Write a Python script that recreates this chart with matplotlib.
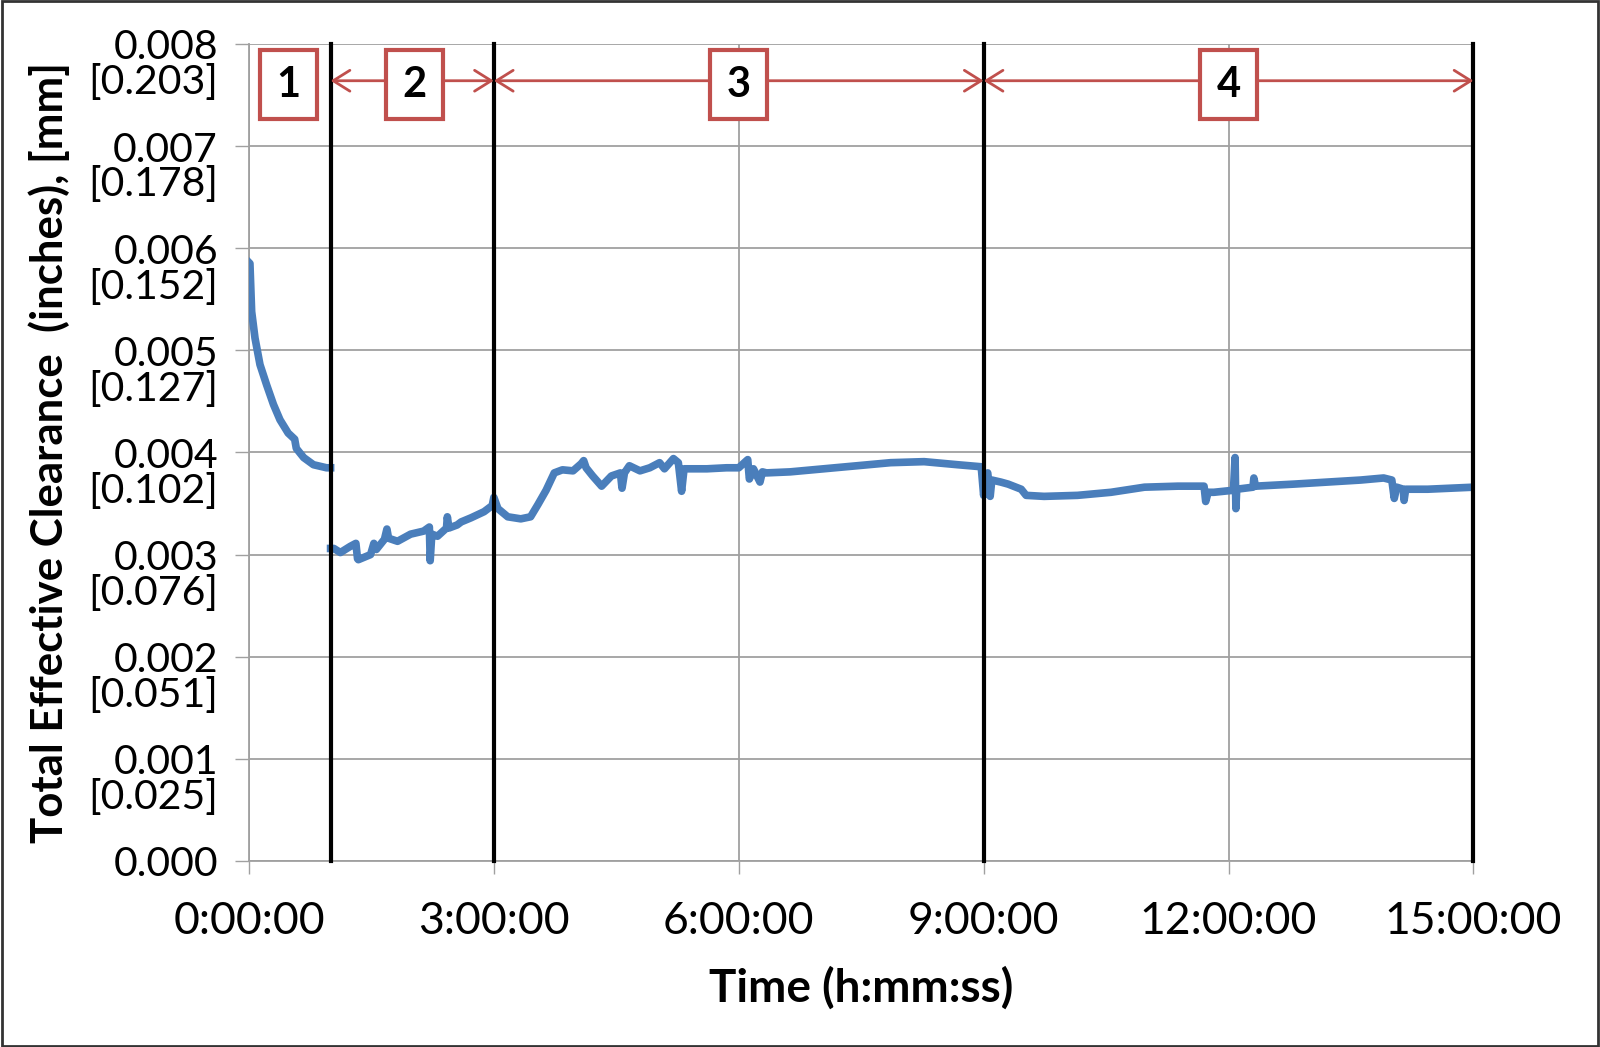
import matplotlib
matplotlib.use("Agg")
import matplotlib.pyplot as plt
from matplotlib.patches import Rectangle
from matplotlib.ticker import MultipleLocator
from matplotlib.transforms import offset_copy

plt.rcParams['font.family'] = ['Lato', 'DejaVu Sans']

# clearance trace, time in hours, clearance in inches
# phase 1 (warm-up) is a separate piece; the rest is one continuous trace
p1_time_h = [0.0, 0.012, 0.033, 0.074, 0.135, 0.217, 0.30, 0.38, 0.48, 0.56, 0.58,
             0.67, 0.79, 0.95, 1.0]
p1_clearance_in = [0.00586, 0.00585, 0.00538, 0.00512, 0.00486, 0.00466, 0.00447,
                   0.00432, 0.00419, 0.00413, 0.00404, 0.00395, 0.00388, 0.00385,
                   0.00385]

time_h = [1.0, 1.04, 1.12, 1.24, 1.31, 1.33, 1.34, 1.49, 1.53, 1.56, 1.66, 1.69,
          1.71, 1.82, 1.98, 2.14, 2.21, 2.22, 2.24, 2.31, 2.42, 2.43, 2.45, 2.55,
          2.60, 2.72, 2.88, 2.98, 3.0,
          3.05, 3.17, 3.33, 3.45, 3.54, 3.64, 3.74, 3.84, 3.97, 4.07, 4.10, 4.13,
          4.21, 4.32, 4.38, 4.44, 4.55, 4.57, 4.60, 4.66, 4.79, 4.91, 5.03, 5.09,
          5.20, 5.26, 5.30, 5.33, 5.61, 5.85, 6.0, 6.11, 6.13, 6.18, 6.26, 6.29,
          6.34, 6.63, 7.04, 7.45, 7.86, 8.27, 8.68, 8.97, 9.0,
          9.02, 9.05, 9.08, 9.10, 9.21, 9.30, 9.46, 9.52, 9.74, 10.15, 10.56,
          10.97, 11.38, 11.70, 11.72, 11.75, 11.82, 12.06, 12.08, 12.09, 12.10,
          12.30, 12.31, 12.33, 12.8, 13.21, 13.62, 13.9, 14.0, 14.03, 14.06,
          14.14, 14.15, 14.17, 14.44, 15.0]
clearance_in = [0.00306, 0.00306, 0.00302, 0.00308, 0.00311, 0.00296, 0.00295,
                0.00300, 0.00311, 0.00305, 0.00315, 0.00325, 0.00316, 0.00313,
                0.00320, 0.00323, 0.00327, 0.00294, 0.00320, 0.00318, 0.00326,
                0.00337, 0.00326, 0.00329, 0.00332, 0.00336, 0.00342, 0.00348,
                0.00356,
                0.00345, 0.00337, 0.00335, 0.00337, 0.00349, 0.00363, 0.00380,
                0.00383, 0.00382, 0.00389, 0.00392, 0.00385, 0.00377, 0.00367,
                0.00372, 0.00377, 0.00380, 0.00365, 0.00380, 0.00387, 0.00382,
                0.00385, 0.00390, 0.00384, 0.00394, 0.00390, 0.00362, 0.00384,
                0.00384, 0.00385, 0.00385, 0.00393, 0.00374, 0.00384, 0.00371,
                0.00381, 0.00380, 0.00381, 0.00384, 0.00387, 0.00390, 0.00391,
                0.00388, 0.00386, 0.00358,
                0.00376, 0.00380, 0.00357, 0.00373, 0.00371, 0.00369, 0.00364,
                0.00358, 0.00357, 0.00358, 0.00361, 0.00366, 0.00367, 0.00367,
                0.00352, 0.00361, 0.00361, 0.00363, 0.00395, 0.00345, 0.00364,
                0.00366, 0.00375, 0.00367, 0.00369, 0.00371, 0.00373, 0.00375,
                0.00373, 0.00355, 0.00366, 0.00364, 0.00353, 0.00364, 0.00364,
                0.00366]

# test phase boundaries (hours) and phase labels
phase_bounds = [1, 3, 9, 15]
phase_names = ["1", "2", "3", "4"]
phase_centers = [0.48, 2.03, 6.0, 12.0]

x_ticks = [0, 3, 6, 9, 12, 15]
x_labels = ["0:00:00", "3:00:00", "6:00:00", "9:00:00", "12:00:00", "15:00:00"]
y_ticks = [0.000, 0.001, 0.002, 0.003, 0.004, 0.005, 0.006, 0.007, 0.008]
y_labels = ["0.000", "0.001", "0.002", "0.003", "0.004", "0.005", "0.006", "0.007", "0.008"]
y_mm_labels = ["", "[0.025]", "[0.051]", "[0.076]", "[0.102]", "[0.127]", "[0.152]", "[0.178]", "[0.203]"]

blue = "#4A7EBB"
red = "#C0504D"
grid_gray = "#A0A0A0"

fig = plt.figure(figsize=(16, 10.47), dpi=100)
ax = fig.add_axes([0.1556, 0.1777, 0.7653, 0.7803])

ax.plot(p1_time_h, p1_clearance_in, color=blue, lw=5.5, solid_joinstyle="round", zorder=3)
ax.plot(time_h, clearance_in, color=blue, lw=5.5, solid_joinstyle="round", zorder=3)

# phase boundary lines
for b in phase_bounds:
    ax.axvline(b, color="black", lw=3, zorder=4, clip_on=False)

# double arrows between phase boundaries + boxed phase numbers
arrow_y = 0.00764
for i in range(1, 4):
    ax.annotate("", xy=(phase_bounds[i], arrow_y), xytext=(phase_bounds[i - 1], arrow_y),
                arrowprops=dict(arrowstyle="<->,head_length=0.4,head_width=0.25",
                                color=red, lw=2, mutation_scale=30,
                                shrinkA=0, shrinkB=0), zorder=5)
box_w, box_h = 0.70, 0.000675
for c, name in zip(phase_centers, phase_names):
    ax.add_patch(Rectangle((c - box_w / 2, 0.0076 - box_h / 2), box_w, box_h,
                           fc="white", ec=red, lw=3, zorder=6))
    ax.text(c, 0.0076, name, ha="center", va="center", fontsize=30,
            fontweight="bold", zorder=7)

ax.set_xlim(0, 15)
ax.set_ylim(0, 0.008)
ax.set_xticks(x_ticks)
ax.set_xticklabels(x_labels)
ax.set_yticks(y_ticks)
ax.set_yticklabels([])
ax.xaxis.set_minor_locator(MultipleLocator(0.6))

ax.grid(True, which="major", color=grid_gray, lw=1.3)
ax.grid(True, which="minor", axis="x", color="white", lw=1.6)
ax.set_axisbelow(True)

for s in ["top", "right"]:
    ax.spines[s].set_visible(False)
for s in ["left", "bottom"]:
    ax.spines[s].set_color(grid_gray)
    ax.spines[s].set_linewidth(1.3)

ax.tick_params(axis="x", which="major", direction="out", length=9.5, width=1,
               color=grid_gray, labelsize=32, pad=19)
ax.tick_params(axis="x", which="minor", length=0)
ax.tick_params(axis="y", direction="out", length=10, width=1, color=grid_gray)

# y tick labels: inches on the first line, millimetres in brackets below
one_line = offset_copy(ax.get_yaxis_transform(), fig=fig, x=-31, y=0, units="dots")
two_lines = offset_copy(ax.get_yaxis_transform(), fig=fig, x=-31, y=-19, units="dots")
for v, lab_in, lab_mm in zip(y_ticks, y_labels, y_mm_labels):
    if lab_mm:
        ax.text(0, v, lab_in + "\n" + lab_mm, transform=two_lines, ha="right",
                va="center_baseline", multialignment="right", fontsize=29.5,
                linespacing=0.93)
    else:
        ax.text(0, v, lab_in, transform=one_line, ha="right",
                va="center_baseline", fontsize=29.5)

ax.set_xlabel("Time (h:mm:ss)", fontsize=33, fontweight="bold", va="center")
ax.xaxis.set_label_coords(0.5, -0.155)
ax.set_ylabel("Total Effective Clearance  (inches), [mm]", fontsize=31.5,
              fontweight="bold", va="center")
ax.yaxis.set_label_coords(-0.163, 0.5)

fig.patches.append(Rectangle((0.001, 0.001), 0.998, 0.998, transform=fig.transFigure,
                             fill=False, ec="#333333", lw=2))

fig.savefig("out.png", dpi=100)
